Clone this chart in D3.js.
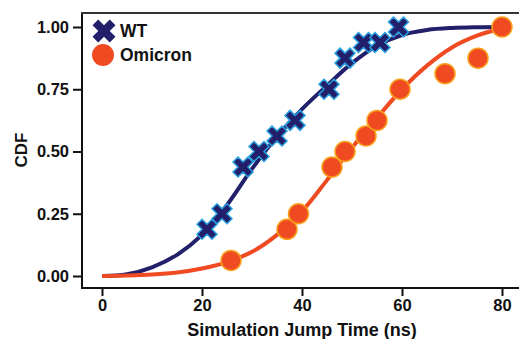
<!DOCTYPE html>
<html>
<head>
<meta charset="UTF-8">
<script src="https://cdn.jsdelivr.net/npm/d3@7"></script>
<style>
  body { margin: 0; background: #fff; }
  text { font-family: "Liberation Sans", Arial, sans-serif; font-weight: bold; }
</style>
</head>
<body>
<svg width="519" height="339"></svg>
<script>
// measured points (ns, CDF)
var wtTime = [21, 24, 28.2, 31.4, 35, 38.6, 45.4, 48.6, 52.3, 55.6, 59.3];
var wtCdf  = [0.1875, 0.25, 0.4375, 0.5, 0.5625, 0.625, 0.75, 0.875, 0.9375, 0.9375, 1.0];
var omTime = [25.8, 37, 39.3, 46, 48.6, 52.8, 55, 59.6, 68.6, 75.2, 80];
var omCdf  = [0.0625, 0.1875, 0.25, 0.4375, 0.5, 0.5625, 0.625, 0.75, 0.8125, 0.875, 1.0];

// fitted curves
var fitTime = [0, 5, 10, 15, 20, 25, 30, 35, 40, 45, 50, 55, 60, 65, 70, 75, 80];
var wtFit   = [0, 0.007, 0.035, 0.085, 0.165, 0.285, 0.43, 0.56, 0.67, 0.765, 0.855, 0.925, 0.968, 0.988, 0.996, 0.999, 1.0];
var omFit   = [0, 0.002, 0.006, 0.014, 0.03, 0.056, 0.097, 0.165, 0.26, 0.385, 0.515, 0.635, 0.75, 0.845, 0.918, 0.965, 0.995];

var xTicks = [0, 20, 40, 60, 80];
var yTicks = [0, 0.25, 0.5, 0.75, 1];

var navy = "#22206b", orange = "#ef4a22";

var svg = d3.select("svg");
var x = d3.scaleLinear().domain([0, 80]).range([102, 502]);
var y = d3.scaleLinear().domain([0, 1]).range([276, 27]);

// frame
svg.append("line").attr("x1", 82).attr("x2", 82).attr("y1", 12).attr("y2", 289)
  .attr("stroke", "#111").attr("stroke-width", 2);
svg.append("line").attr("x1", 81).attr("x2", 519).attr("y1", 288).attr("y2", 288)
  .attr("stroke", "#111").attr("stroke-width", 2);
svg.append("line").attr("x1", 81).attr("x2", 519).attr("y1", 13).attr("y2", 13)
  .attr("stroke", "#333").attr("stroke-width", 2);

// axes
var yAxis = svg.append("g").attr("transform", "translate(82,0)")
  .call(d3.axisLeft(y).tickValues(yTicks).tickFormat(d3.format(".2f")).tickSize(9).tickPadding(4));
var xAxis = svg.append("g").attr("transform", "translate(0,288)")
  .call(d3.axisBottom(x).tickValues(xTicks).tickSize(8).tickPadding(3));
[yAxis, xAxis].forEach(function(a) {
  a.select(".domain").remove();
  a.selectAll("line").attr("stroke", "#111").attr("stroke-width", 2);
  a.selectAll("text").attr("fill", "#111").style("font-size", "16.5px");
});

// labels
svg.append("text").attr("x", 302).attr("y", 336).attr("text-anchor", "middle")
  .style("font-size", "18px").attr("fill", "#111").text("Simulation Jump Time (ns)");
svg.append("text").attr("transform", "translate(27,150) rotate(-90)").attr("text-anchor", "middle")
  .style("font-size", "17px").attr("fill", "#111").text("CDF");

// fit lines
var line = d3.line().curve(d3.curveCatmullRom.alpha(0.5));
svg.append("path")
  .attr("d", line(fitTime.map(function(t, i) { return [x(t), y(wtFit[i])]; })))
  .attr("fill", "none").attr("stroke", navy).attr("stroke-width", 4);
svg.append("path")
  .attr("d", line(fitTime.map(function(t, i) { return [x(t), y(omFit[i])]; })))
  .attr("fill", "none").attr("stroke", orange).attr("stroke-width", 4);

// markers
var cross = d3.symbol().type(d3.symbolCross).size(250);
svg.append("g").selectAll("path").data(wtTime).enter().append("path")
  .attr("d", cross)
  .attr("transform", function(d, i) { return "translate(" + x(d) + "," + y(wtCdf[i]) + ") rotate(45)"; })
  .attr("fill", navy).attr("stroke", "#2a9fe0").attr("stroke-width", 1.5);

svg.append("g").selectAll("circle").data(omTime).enter().append("circle")
  .attr("cx", function(d) { return x(d); })
  .attr("cy", function(d, i) { return y(omCdf[i]); })
  .attr("r", 10)
  .attr("fill", orange).attr("stroke", "#f7a01c").attr("stroke-width", 1.5);

// legend
svg.append("path").attr("d", d3.symbol().type(d3.symbolCross).size(330))
  .attr("transform", "translate(104,31) rotate(45)").attr("fill", navy);
svg.append("circle").attr("cx", 103).attr("cy", 55).attr("r", 11).attr("fill", orange);
svg.append("text").attr("x", 120).attr("y", 37).style("font-size", "17.5px").attr("fill", "#111").text("WT");
svg.append("text").attr("x", 120).attr("y", 61).style("font-size", "17.5px").attr("fill", "#111").text("Omicron");
</script>
</body>
</html>
